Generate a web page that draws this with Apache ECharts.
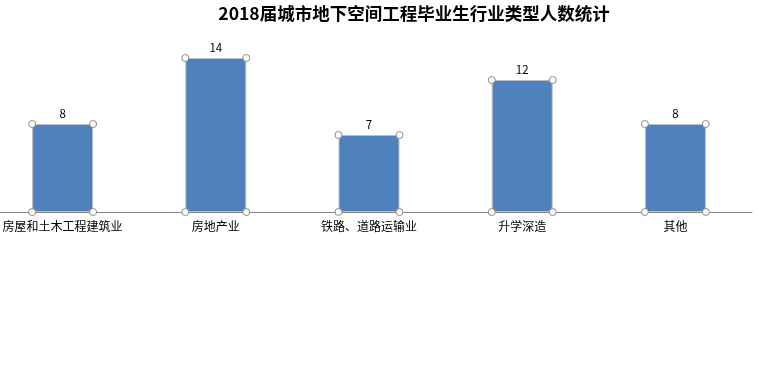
<!DOCTYPE html>
<html><head><meta charset="utf-8">
<script src="https://cdn.jsdelivr.net/npm/echarts@6/dist/echarts.min.js"></script>
<style>html,body{margin:0;padding:0;background:#fff;overflow:hidden}#c{width:773px;height:366px;margin-left:-14px}</style>
</head><body><div id="c"></div>
<script>
var categories = ['房屋和土木工程建筑业', '房地产业', '铁路、道路运输业', '升学深造', '其他'];
var values = [8, 14, 7, 12, 8];
var titleText = '2018届城市地下空间工程毕业生行业类型人数统计';

var chart = echarts.init(document.getElementById('c'));
var font = '"Noto Sans CJK SC", "Microsoft YaHei", sans-serif';
chart.setOption({
  animation: false,
  title: {
    text: titleText, left: 423, textAlign: 'center', top: 0,
    textStyle: {fontFamily: font, fontSize: 17.5, fontWeight: 'bold', color: '#000'}
  },
  grid: {left: 0, right: 7, top: 36, bottom: 154},
  xAxis: {
    type: 'category', data: categories,
    axisLine: {show: true, lineStyle: {color: '#868686', width: 1}},
    axisTick: {show: false},
    axisLabel: {color: '#000', fontSize: 12, fontFamily: font, margin: 8, interval: 0}
  },
  yAxis: {type: 'value', min: 0, max: 16, show: false, splitLine: {show: false}},
  series: [{
    type: 'bar', data: values, barWidth: 61,
    itemStyle: {color: '#4F81BD', borderColor: '#BFBFBF', borderWidth: 1},
    label: {show: true, position: 'top', distance: 5, color: '#000', fontSize: 11.5, fontFamily: font}
  }, {
    type: 'custom', data: values.map(function (v, i) { return [i, v]; }),
    z: 5, silent: true,
    renderItem: function (params, api) {
      var top = api.coord([api.value(0), api.value(1)]);
      var base = api.coord([api.value(0), 0]);
      var hw = 30.5;
      var pts = [[top[0] - hw, top[1]], [top[0] + hw, top[1]], [base[0] - hw, base[1]], [base[0] + hw, base[1]]];
      return {
        type: 'group',
        children: pts.map(function (p) {
          return {type: 'circle', shape: {cx: p[0], cy: p[1], r: 3.5},
            style: {fill: '#fff', stroke: '#8a8a8a', lineWidth: 1}};
        })
      };
    }
  }]
});
</script></body></html>
